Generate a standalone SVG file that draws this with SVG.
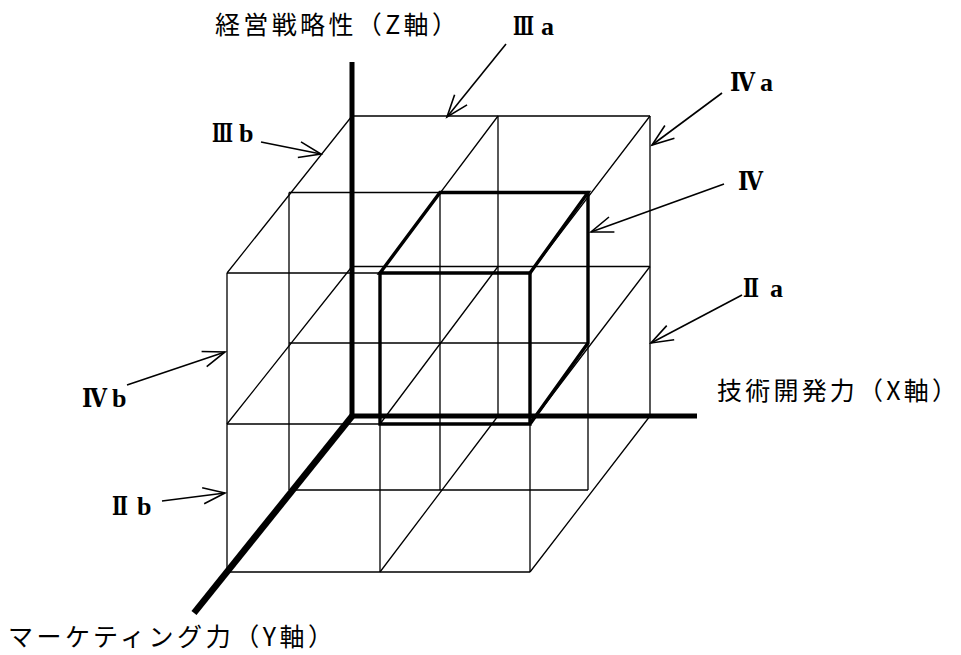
<svg xmlns="http://www.w3.org/2000/svg" width="961" height="655" viewBox="0 0 961 655">
<style>
.g{stroke:#000;stroke-width:1.3;fill:none}
.c{stroke:#000;stroke-width:3.4;stroke-linecap:round;fill:none}
.ax{stroke:#000;fill:none}
.ar{stroke:#000;stroke-width:1.6;fill:none;marker-end:url(#ah)}
.jp{font-family:'Noto Sans CJK JP','Noto Sans CJK SC',sans-serif;font-size:25px;fill:#000}
.rn{font-family:'Liberation Serif','DejaVu Serif','Noto Sans CJK JP',serif;font-weight:bold;font-size:26px;fill:#000}
</style>
<defs>
<marker id="ah" markerUnits="userSpaceOnUse" viewBox="-25 -12 30 24" markerWidth="30" markerHeight="24" refX="0" refY="0" orient="auto">
<path d="M-22,-8 L0,0 L-22,8" fill="none" stroke="#000" stroke-width="1.6"/>
</marker>
</defs>
<rect width="961" height="655" fill="#fff"/>
<g id="grid" class="g">
<path d="M352,116H650M352,266.5H650M352,416H650"/>
<path d="M289,192.5H588M289,343H588M289,490H588"/>
<path d="M227,273H530M227,424H530M227,572H530"/>
<path d="M498,116V416M650,116V416"/>
<path d="M289,192.5V490M440,192.5V490M588,192.5V490"/>
<path d="M227,273V572M380,273V572M530,273V572"/>
<path d="M352,116L227,273M498,116L380,273M650,116L530,273"/>
<path d="M352,266.5L227,424M498,266.5L380,424M650,266.5L530,424"/>
<path d="M498,416L380,572M650,416L530,572"/>
</g>
<g id="cube-IV" class="c">
<path d="M440,192.5H588L530,273H380Z"/>
<path d="M380,273V424H530V273M588,192.5V343L530,424"/>
</g>
<g id="axes">
<line id="z-axis" class="ax" x1="352" y1="62" x2="352" y2="418" stroke-width="5"/>
<line id="x-axis" class="ax" x1="350" y1="416" x2="697" y2="416" stroke-width="5"/>
<line id="y-axis" class="ax" x1="353" y1="415" x2="194" y2="613" stroke-width="6.5"/>
</g>
<g id="axis-labels">
<g id="label-z"><text class="jp" x="215" y="34" textLength="242" lengthAdjust="spacing">経営戦略性（Z軸）</text></g>
<g id="label-x"><text class="jp" x="717" y="400" textLength="240" lengthAdjust="spacing">技術開発力（X軸）</text></g>
<g id="label-y"><text class="jp" x="8" y="646" textLength="325" lengthAdjust="spacing">マーケティング力（Y軸）</text></g>
</g>
<g id="node-IIIa"><text class="rn" y="35"><tspan x="513" textLength="21" lengthAdjust="spacingAndGlyphs">Ⅲ</tspan><tspan x="541">a</tspan></text></g>
<g id="node-IIIb"><text class="rn" y="142"><tspan x="212" textLength="21" lengthAdjust="spacingAndGlyphs">Ⅲ</tspan><tspan x="239">b</tspan></text></g>
<g id="node-IVa"><text class="rn" y="91"><tspan x="730" textLength="25" lengthAdjust="spacingAndGlyphs">Ⅳ</tspan><tspan x="760">a</tspan></text></g>
<g id="node-IV"><text class="rn" x="738" y="190" textLength="25" lengthAdjust="spacingAndGlyphs">Ⅳ</text></g>
<g id="node-IIa"><text class="rn" y="297"><tspan x="743" textLength="16" lengthAdjust="spacingAndGlyphs">Ⅱ</tspan><tspan x="770">a</tspan></text></g>
<g id="node-IVb"><text class="rn" y="407"><tspan x="82" textLength="25" lengthAdjust="spacingAndGlyphs">Ⅳ</tspan><tspan x="112">b</tspan></text></g>
<g id="node-IIb"><text class="rn" y="515"><tspan x="112" textLength="16" lengthAdjust="spacingAndGlyphs">Ⅱ</tspan><tspan x="137">b</tspan></text></g>
<g id="connectors">
<line class="ar" x1="506" y1="44" x2="447" y2="117"/>
<line class="ar" x1="261" y1="142" x2="321" y2="154"/>
<line class="ar" x1="722" y1="93" x2="652" y2="145"/>
<line class="ar" x1="724" y1="184" x2="591" y2="232"/>
<line class="ar" x1="742" y1="295" x2="651" y2="343"/>
<line class="ar" x1="127" y1="385" x2="225" y2="352"/>
<line class="ar" x1="162" y1="501" x2="225" y2="493"/>
</g>
</svg>
